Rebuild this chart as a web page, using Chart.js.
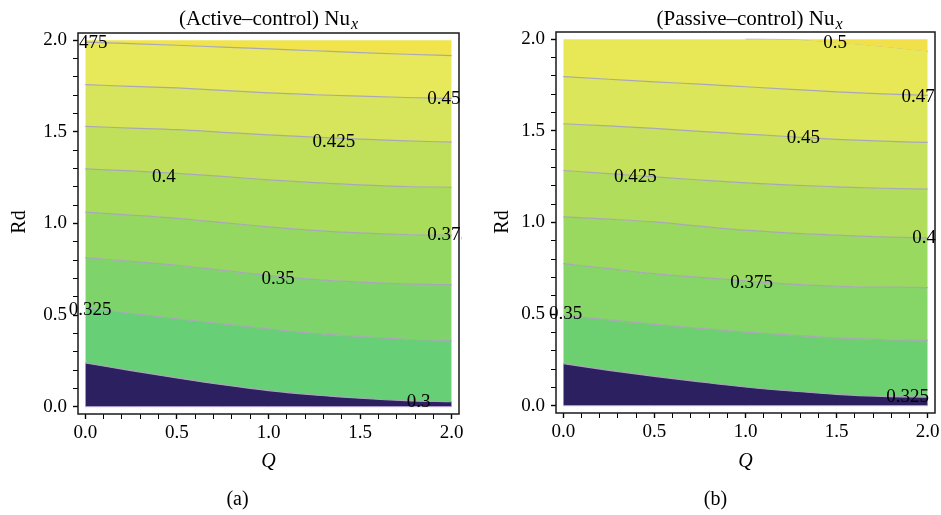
<!DOCTYPE html>
<html><head><meta charset="utf-8">
<script src="https://cdn.jsdelivr.net/npm/chart.js@4"></script>
<style>
html,body{margin:0;padding:0;background:#fff;}
#wrap{position:relative;width:941px;height:515px;overflow:hidden;background:#fff;}
canvas{position:absolute;top:0;}
#ca{left:0;} #cb{left:470px;}
</style></head><body>
<div id="wrap"><canvas id="ca" width="470" height="515"></canvas><canvas id="cb" width="471" height="515"></canvas></div>
<script>
// ---------- data ----------
const Q = [0, 0.25, 0.5, 0.75, 1, 1.25, 1.5, 1.75, 2];
const tickValues = [0,0.1,0.2,0.3,0.4,0.5,0.6,0.7,0.8,0.9,1,1.1,1.2,1.3,1.4,1.5,1.6,1.7,1.8,1.9,2];
const rdBottom = [0,0,0,0,0,0,0,0,0];
const rdTop = [2,2,2,2,2,2,2,2,2];

// (a) Active-control Nu_x contour lines: Rd at each Q
const activeLevels = ['0.3','0.325','0.35','0.375','0.4','0.425','0.45','0.475'];
const activeNu300 = [0.239, 0.197, 0.157, 0.120, 0.088, 0.064, 0.046, 0.033, 0.027];
const activeNu325 = [0.540, 0.510, 0.480, 0.452, 0.425, 0.400, 0.383, 0.368, 0.361];
const activeNu350 = [0.814, 0.793, 0.772, 0.744, 0.717, 0.695, 0.680, 0.670, 0.666];
const activeNu375 = [1.062, 1.046, 1.028, 1.005, 0.982, 0.963, 0.949, 0.940, 0.936];
const activeNu400 = [1.298, 1.287, 1.274, 1.257, 1.238, 1.223, 1.211, 1.202, 1.198];
const activeNu425 = [1.530, 1.521, 1.512, 1.498, 1.484, 1.472, 1.461, 1.451, 1.444];
const activeNu450 = [1.758, 1.749, 1.740, 1.727, 1.713, 1.703, 1.695, 1.688, 1.683];
const activeNu475 = [1.990, 1.982, 1.973, 1.963, 1.953, 1.943, 1.933, 1.924, 1.917];
const activeLabelText = ['0.475','0.45','0.425','0.4','0.375','0.35','0.325','0.3'];
const activeLabelQ    = [0.004, 1.958, 1.357, 0.429, 1.984, 1.053, 0.026, 1.82];
const activeLabelRd   = [1.986, 1.680, 1.447, 1.256, 0.936, 0.699, 0.530, 0.0235];

// (b) Passive-control Nu_x contour lines
const passiveLevels = ['0.325','0.35','0.375','0.4','0.425','0.45','0.475','0.5'];
const passiveNu325 = [0.230, 0.193, 0.160, 0.130, 0.102, 0.080, 0.062, 0.051, 0.047];
const passiveNu350 = [0.493, 0.468, 0.444, 0.422, 0.402, 0.385, 0.370, 0.361, 0.357];
const passiveNu375 = [0.776, 0.748, 0.721, 0.700, 0.681, 0.664, 0.652, 0.647, 0.645];
const passiveNu400 = [1.031, 1.018, 1.003, 0.980, 0.958, 0.942, 0.931, 0.921, 0.916];
const passiveNu425 = [1.284, 1.267, 1.249, 1.232, 1.216, 1.204, 1.195, 1.187, 1.182];
const passiveNu450 = [1.539, 1.527, 1.514, 1.498, 1.483, 1.468, 1.454, 1.444, 1.437];
const passiveNu475 = [1.796, 1.782, 1.768, 1.755, 1.741, 1.727, 1.713, 1.702, 1.694];
const passiveNu500 = [2.000, 2.000, 2.000, 2.000, 2.000, 1.998, 1.981, 1.960, 1.934];
const passiveLabelText = ['0.5','0.475','0.45','0.425','0.4','0.375','0.35','0.325'];
const passiveLabelQ    = [1.492, 1.974, 1.317, 0.395, 1.980, 1.033, 0.0126, 1.89];
const passiveLabelRd   = [1.978, 1.686, 1.459, 1.249, 0.918, 0.670, 0.503, 0.047];

// ---------- styles ----------
const activeBandColors  = ['#2c2060','#67cf75','#7ed46a','#94d862','#aadc5c','#c0e05c','#d6e55c','#e7e95a','#f0e34c'];
const passiveBandColors = ['#2c2060','#6dd070','#85d567','#9ad95f','#b0dd5b','#c6e15b','#dbe65a','#e8e857','#f2e04a'];
const lineColor = '#a9a7b6';
const serif = '"Liberation Serif", "DejaVu Serif", serif';

function makeDatasets(contours, colors){
  const ds = [];
  const overlays = [];
  ds.push({data: Q.map((q,i)=>({x:q, y:rdBottom[i]})), borderColor:'#b9a9da', borderWidth:1, fill:false, pointRadius:0});
  contours.forEach((arr, k) => {
    const pts = Q.map((q,i)=>({x:q, y:arr[i]}));
    let lastTop = -1;
    arr.forEach((v,i) => { if (v >= 1.9995) lastTop = i; });
    ds.push({
      data: pts,
      borderColor: lastTop >= 0 ? 'rgba(0,0,0,0)' : lineColor,
      borderWidth: lastTop >= 0 ? 0 : 1.2,
      backgroundColor: colors[k], fill: '-1', pointRadius: 0,
      cubicInterpolationMode: 'monotone'
    });
    if (lastTop >= 0) {
      overlays.push({ data: pts.slice(lastTop), borderColor: lineColor, borderWidth: 1.2,
                      fill: false, pointRadius: 0, cubicInterpolationMode: 'monotone' });
    }
  });
  ds.push({data: Q.map((q,i)=>({x:q, y:rdTop[i]})), borderWidth:0, borderColor:'rgba(0,0,0,0)',
           backgroundColor: colors[contours.length], fill:'-1', pointRadius:0});
  return ds.concat(overlays);
}

const decor = {
  id: 'decor',
  afterDraw(chart, args, o){
    const {ctx, chartArea:a, scales:{x, y}} = chart;
    ctx.save();
    ctx.strokeStyle = '#1a1a1a'; ctx.lineWidth = 1.5;
    ctx.strokeRect(a.left, a.top, a.right - a.left, a.bottom - a.top);
    ctx.font = '19px ' + serif; ctx.fillStyle = '#000';
    ctx.textAlign = 'center'; ctx.textBaseline = 'middle';
    o.labelText.forEach((t, i) => {
      ctx.save(); ctx.beginPath();
      const l = o.clipLeft[i] ? a.left : 0;
      ctx.rect(l, 0, a.right + o.clipRight - l, chart.height); ctx.clip();
      ctx.fillText(t, x.getPixelForValue(o.labelQ[i]), y.getPixelForValue(o.labelRd[i]));
      ctx.restore();
    });
    // title with subscript
    const cx = (a.left + a.right) / 2 + o.titleDx;
    ctx.textBaseline = 'alphabetic'; ctx.textAlign = 'left';
    ctx.font = '21px ' + serif;
    const w1 = ctx.measureText(o.title).width;
    ctx.font = 'italic 16px ' + serif;
    const w2 = ctx.measureText('x').width;
    let sx = cx - (w1 + w2 + 1) / 2;
    ctx.font = '21px ' + serif; ctx.fillText(o.title, sx, 25);
    ctx.font = 'italic 16px ' + serif; ctx.fillText('x', sx + w1 + 1, 29);
    // axis titles
    ctx.textAlign = 'center'; ctx.textBaseline = 'middle';
    ctx.font = 'italic 20px ' + serif;
    ctx.fillText('Q', (a.left + a.right) / 2, 462);
    ctx.font = '20px ' + serif;
    ctx.fillText(o.caption, (a.left + a.right) / 2 + o.captionDx, 500);
    ctx.save();
    ctx.translate(o.rdX, 222); ctx.rotate(-Math.PI / 2);
    ctx.fillText('Rd', 0, 0);
    ctx.restore();
    ctx.restore();
  }
};

function tickLabel(v){
  const r = Math.round(v * 2);
  return Math.abs(v * 2 - r) < 1e-6 ? (r / 2).toFixed(1) : '';
}

function makePanel(id, p){
  const axisCommon = {
    type: 'linear', min: -0.04, max: 2.04,
    afterBuildTicks: s => { s.ticks = tickValues.map(v => ({value: v})); },
    grid: { drawOnChartArea: false, drawTicks: true, tickLength: 5, color: '#000',
            tickWidth: c => (tickLabel(c.tick.value) ? 1.4 : 1) },
    border: { display: false },
  };
  new Chart(document.getElementById(id), {
    type: 'line',
    data: { datasets: makeDatasets(p.contours, p.colors) },
    options: {
      responsive: false, animation: false, devicePixelRatio: 1,
      layout: { padding: { left: 0, right: p.padRight, top: p.padTop, bottom: 0 } },
      plugins: { legend: {display:false}, tooltip: {enabled:false}, decor: p },
      elements: { line: { tension: 0 } },
      scales: {
        x: Object.assign({}, axisCommon, {
          position: 'bottom',
          ticks: { autoSkip: false, maxRotation: 0, padding: 3, color: '#000',
                   font: { family: serif, size: 19 }, callback: v => tickLabel(v) },
          afterFit: s => { s.height = p.xAxisHeight; s.paddingLeft = 0; s.paddingRight = 0; }
        }),
        y: Object.assign({}, axisCommon, {
          position: 'left',
          ticks: { autoSkip: false, padding: 6, color: '#000',
                   font: { family: serif, size: 19 }, callback: v => tickLabel(v) },
          afterFit: s => { s.width = p.yAxisWidth; s.paddingTop = 0; s.paddingBottom = 0; }
        })
      }
    },
    plugins: [decor]
  });
}

makePanel('ca', {
  contours: [activeNu300, activeNu325, activeNu350, activeNu375, activeNu400, activeNu425, activeNu450, activeNu475],
  colors: activeBandColors,
  labelText: activeLabelText, labelQ: activeLabelQ, labelRd: activeLabelRd,
  clipLeft: [true, false, false, false, false, false, false, false], clipRight: 2.5,
  title: '(Active\u2013control) Nu', caption: '(a)', titleDx: 0, captionDx: -31, rdX: 19.5,
  yAxisWidth: 78, padRight: 11, padTop: 33, xAxisHeight: 101
});
makePanel('cb', {
  contours: [passiveNu325, passiveNu350, passiveNu375, passiveNu400, passiveNu425, passiveNu450, passiveNu475, passiveNu500],
  colors: passiveBandColors,
  labelText: passiveLabelText, labelQ: passiveLabelQ, labelRd: passiveLabelRd,
  clipLeft: [false, false, false, false, false, false, false, false], clipRight: 0.5,
  title: '(Passive\u2013control) Nu', caption: '(b)', titleDx: 4, captionDx: -30, rdX: 33,
  yAxisWidth: 86, padRight: 6, padTop: 32, xAxisHeight: 102
});
</script>
</body></html>
